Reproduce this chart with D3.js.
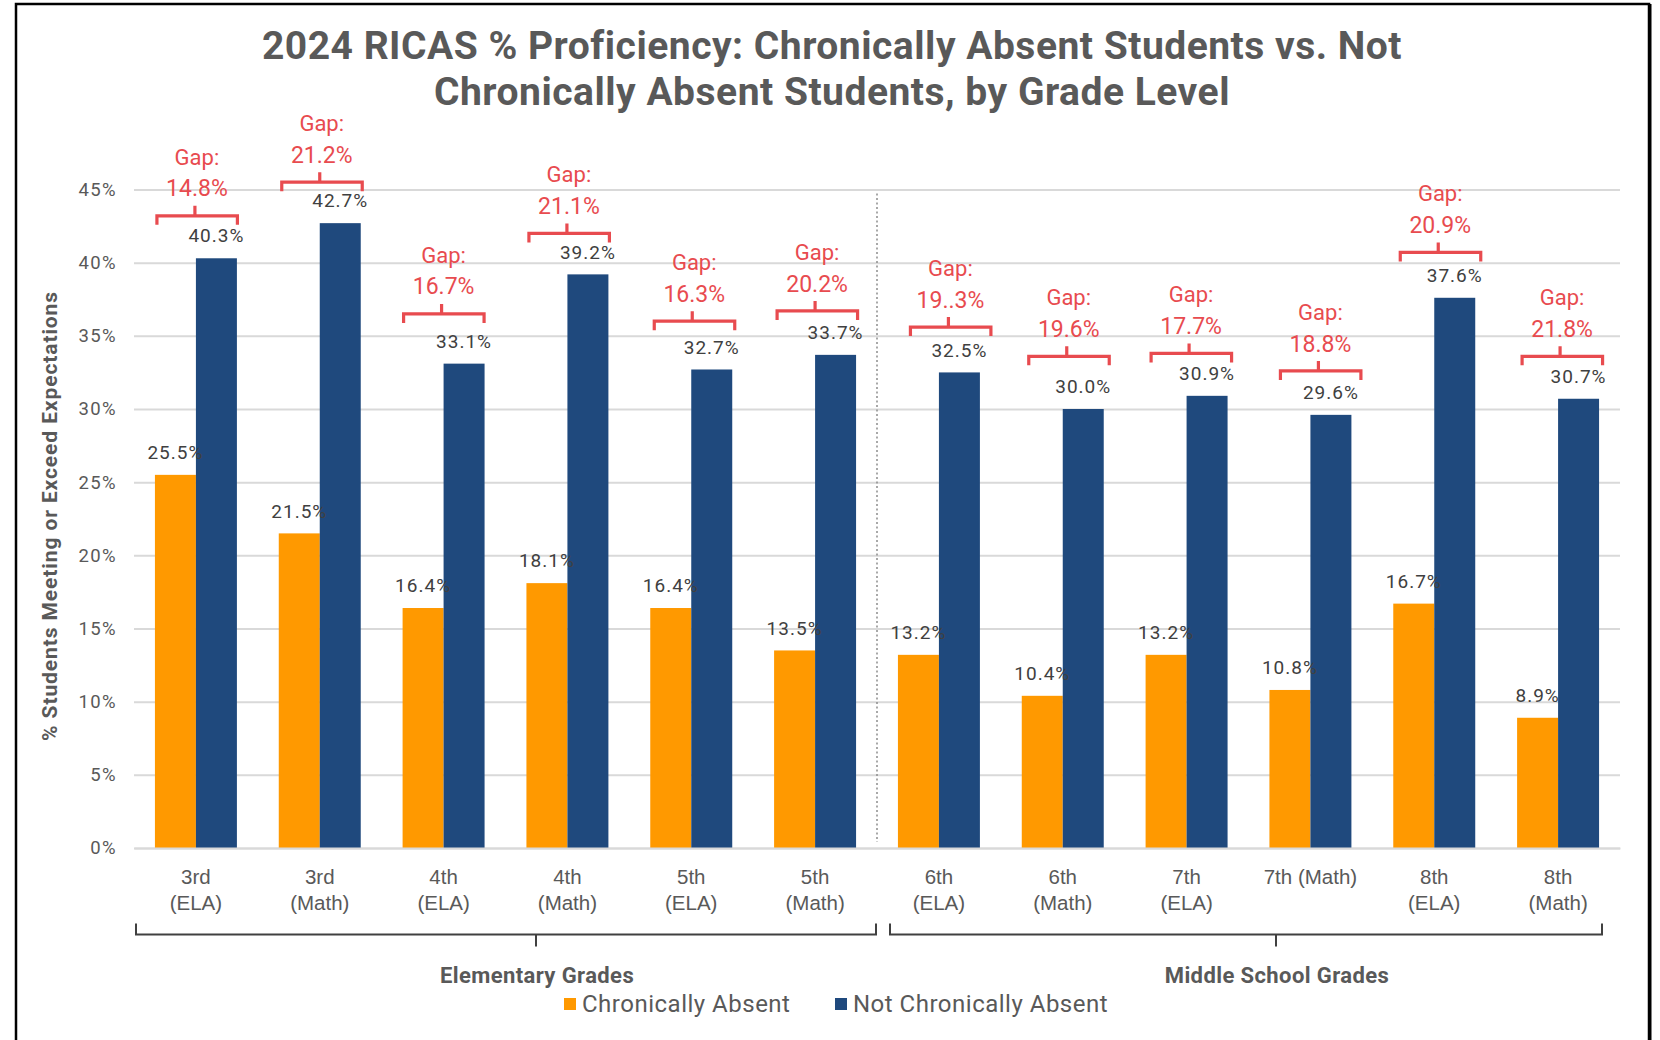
<!DOCTYPE html>
<html><head><meta charset="utf-8">
<script src="https://cdn.jsdelivr.net/npm/d3@7/dist/d3.min.js"></script>
<style>
body{margin:0;background:#fff;}
svg{display:block;font-family:Roboto,"Noto Sans",sans-serif;}
</style>
</head><body>
<svg id="chart" width="1660" height="1040"></svg>
<script>
// ---------- data ----------
const categories = ["3rd (ELA)","3rd (Math)","4th (ELA)","4th (Math)","5th (ELA)","5th (Math)",
                    "6th (ELA)","6th (Math)","7th (ELA)","7th (Math)","8th (ELA)","8th (Math)"];
const categoryLines = [["3rd","(ELA)"],["3rd","(Math)"],["4th","(ELA)"],["4th","(Math)"],["5th","(ELA)"],["5th","(Math)"],
                       ["6th","(ELA)"],["6th","(Math)"],["7th","(ELA)"],["7th (Math)"],["8th","(ELA)"],["8th","(Math)"]];
const seriesNames = ["Chronically Absent","Not Chronically Absent"];
const chronicallyAbsent    = [25.5,21.5,16.4,18.1,16.4,13.5,13.2,10.4,13.2,10.8,16.7,8.9];
const notChronicallyAbsent = [40.3,42.7,33.1,39.2,32.7,33.7,32.5,30.0,30.9,29.6,37.6,30.7];
const gapLabels = ["14.8%","21.2%","16.7%","21.1%","16.3%","20.2%","19..3%","19.6%","17.7%","18.8%","20.9%","21.8%"];
// level (in % units) where each gap bracket sits
const gapLevels = [43.2,45.5,36.5,42.0,36.0,36.7,35.6,33.6,33.8,32.6,40.7,33.6];
const yTicks = [0,5,10,15,20,25,30,35,40,45];
const groupNames = ["Elementary Grades","Middle School Grades"];
const groupSpans = [[0,5],[6,11]];
const titleLines = ["2024 RICAS % Proficiency: Chronically Absent Students vs. Not",
                    "Chronically Absent Students, by Grade Level"];
const yTitle = "% Students Meeting or Exceed Expectations";

// ---------- styles / layout ----------
const colors = {"Chronically Absent":"#FF9900","Not Chronically Absent":"#1F497D"};
const textGray = "#595959", labelGray = "#404040", gapRed = "#E84B4F", gridGray = "#D9D9D9";
// small horizontal nudges of the hand-placed gap callouts (px)
const gapNudge = [1,2,0,1.5,3,2,11.5,6,4.5,10,6,4];

const svg = d3.select("#chart");
const plotL = 134, plotR = 1620, plotT = 189.5, plotB = 848;

const x0 = d3.scaleBand().domain(categories).range([plotL,plotR]).paddingInner(0.338).paddingOuter(0.169);
const x1 = d3.scaleBand().domain(seriesNames).range([0,x0.bandwidth()]);
const y = d3.scaleLinear().domain([0,45]).range([plotB,plotT]);

// frame
svg.append("rect").attr("x",16).attr("y",4).attr("width",1633).attr("height",1060)
  .attr("fill","none").attr("stroke","#000").attr("stroke-width",2.5);
svg.append("line").attr("x1",1650).attr("x2",1650).attr("y1",4).attr("y2",1040)
  .attr("stroke","#000").attr("stroke-width",3);

// title
svg.append("g").selectAll("text").data(titleLines).join("text")
  .attr("x",832).attr("y",(d,i)=>45.5+i*45.5).attr("dy","0.35em")
  .attr("text-anchor","middle").attr("font-size",39).attr("font-weight",700)
  .attr("letter-spacing",0.5).attr("fill",textGray).text(d=>d);

// y axis with gridlines
const yAxis = svg.append("g").attr("transform",`translate(${plotL},0)`)
  .call(d3.axisLeft(y).tickValues(yTicks).tickFormat(d=>d+"%").tickSize(-(plotR-plotL)).tickPadding(17));
yAxis.select(".domain").remove();
yAxis.selectAll(".tick line").attr("stroke",gridGray).attr("stroke-width",2);
yAxis.selectAll(".tick text").attr("fill",textGray).attr("font-size",18.5).attr("letter-spacing",1.4)
  .style("font-family","Roboto,sans-serif");

// y title
svg.append("text").attr("transform","translate(50,516) rotate(-90)").attr("dy","0.35em")
  .attr("text-anchor","middle").attr("font-size",21).attr("font-weight",700).attr("letter-spacing",0.9)
  .attr("fill",textGray).text(yTitle);

// separator between groups
const boundary = x0(categories[groupSpans[1][0]]) - x0.step()*x0.paddingInner()/2;
svg.append("line").attr("x1",boundary).attr("x2",boundary).attr("y1",y(45)+4).attr("y2",y(0)-6)
  .attr("stroke","#8c8c8c").attr("stroke-width",1.5).attr("stroke-dasharray","2,2.5");

// bars
const barData = categories.map((c,i)=>({c,i,vals:[
  {s:seriesNames[0],v:chronicallyAbsent[i]},{s:seriesNames[1],v:notChronicallyAbsent[i]}]}));
const gBars = svg.append("g");
const catG = gBars.selectAll("g").data(barData).join("g").attr("transform",d=>`translate(${x0(d.c)},0)`);
catG.selectAll("rect").data(d=>d.vals).join("rect")
  .attr("x",d=>x1(d.s)).attr("width",x1.bandwidth()).attr("y",d=>y(d.v)).attr("height",d=>y(0)-y(d.v))
  .attr("fill",d=>colors[d.s]);
// data labels
catG.selectAll("text").data(d=>d.vals).join("text")
  .attr("x",d=>x1(d.s)+x1.bandwidth()/2).attr("y",d=>y(d.v)-22.5).attr("dy","0.35em")
  .attr("text-anchor","middle").attr("font-size",19).attr("letter-spacing",1).attr("fill",labelGray)
  .text(d=>d.v.toFixed(1)+"%");

// gap annotations
const gGap = svg.append("g");
categories.forEach((c,i)=>{
  const xs = x0(c)+gapNudge[i];
  const xl = xs+1, xr = xs+x0.bandwidth()-0.5, xc = xs+x0.bandwidth()/2;
  const yb = y(gapLevels[i]);
  gGap.append("path").attr("d",`M${xl},${yb+9}V${yb}H${xr}V${yb+9}M${xc-2},${yb}V${yb-10}`)
    .attr("fill","none").attr("stroke",gapRed).attr("stroke-width",3.2);
  gGap.append("text").attr("x",xc).attr("y",yb-27.5).attr("dy","0.35em").attr("text-anchor","middle")
    .attr("font-size",23).attr("fill",gapRed).text(gapLabels[i]);
  gGap.append("text").attr("x",xc).attr("y",yb-59).attr("dy","0.35em").attr("text-anchor","middle")
    .attr("font-size",22).attr("fill",gapRed).text("Gap:");
});

// x axis labels
const xAxis = svg.append("g").attr("transform",`translate(0,${plotB})`)
  .call(d3.axisBottom(x0).tickSize(0).tickFormat(""));
xAxis.select(".domain").attr("stroke",gridGray).attr("stroke-width",2);
xAxis.selectAll(".tick").each(function(d,i){
  const t = d3.select(this).append("text").attr("fill",textGray).attr("font-size",20.5).attr("text-anchor","middle");
  categoryLines[i].forEach((ln,j)=>{
    t.append("tspan").attr("x",0).attr("y",29+j*26).attr("dy","0.35em").text(ln);
  });
});

// group brackets
const bracketY = 934.5;
const groupBounds = [[plotL+2, boundary-1],[boundary+13, plotR-18]];
groupNames.forEach((name,k)=>{
  const [a,b] = groupBounds[k];
  const cx = (a+b)/2 + 30;
  svg.append("path").attr("d",`M${a},${bracketY-11}V${bracketY}H${b}V${bracketY-11}M${cx},${bracketY}V${bracketY+12}`)
    .attr("fill","none").attr("stroke","#404040").attr("stroke-width",2);
  svg.append("text").attr("x",cx+1).attr("y",975).attr("dy","0.35em").attr("text-anchor","middle")
    .attr("font-size",22).attr("font-weight",700).attr("letter-spacing",0.4).attr("fill",textGray).text(name);
});

// legend
const legendX = [564, 835];
seriesNames.forEach((s,k)=>{
  const g = svg.append("g").attr("transform",`translate(${legendX[k]},1004)`);
  g.append("rect").attr("x",0).attr("y",-6).attr("width",12).attr("height",12).attr("fill",colors[s]);
  g.append("text").attr("x",18).attr("y",0).attr("dy","0.35em").attr("font-size",24).attr("letter-spacing",0.5)
    .attr("fill",textGray).text(s);
});
</script>
</body></html>
